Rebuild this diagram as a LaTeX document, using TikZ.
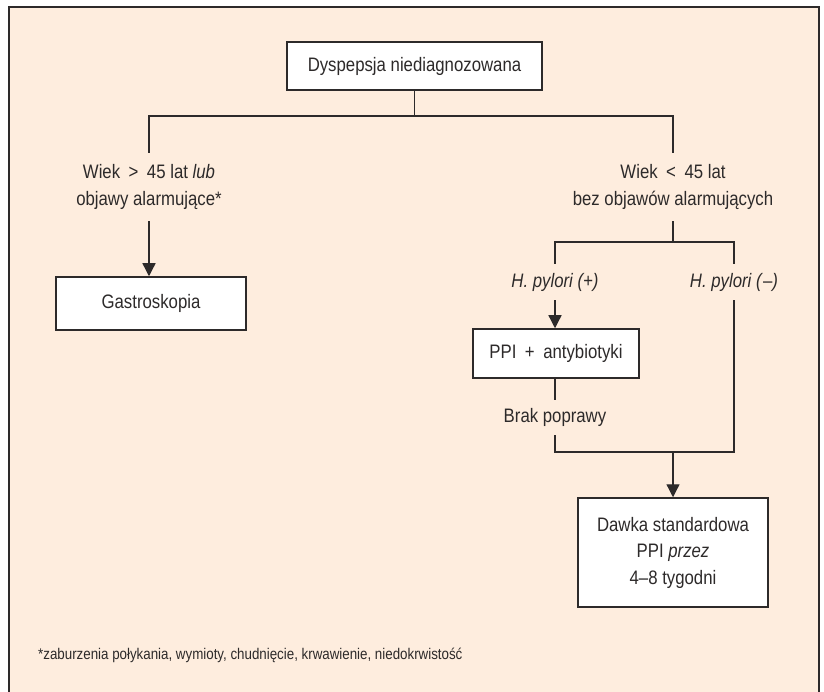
\documentclass[tikz,border=0pt]{standalone}
\usepackage{fontspec}
\setmainfont{Liberation Sans}[FakeStretch=0.86]
\usetikzlibrary{arrows.meta}
\definecolor{peach}{RGB}{254,237,222}
\definecolor{ink}{RGB}{45,42,42}
% wider gap around relation and plus signs
\newcommand{\opgap}{\hspace{8.5pt}}
\tikzset{
  box/.style={draw=ink, line width=1.5pt, fill=white, inner sep=0pt, align=center,
              font=\fontsize{19.5}{26.5}\selectfont, text=ink},
  lbl/.style={inner sep=0pt, align=center, font=\fontsize{19.5}{27}\selectfont, text=ink},
  wire/.style={draw=ink, line width=1.3pt},
  arr/.style={wire, -{Triangle[width=13pt,length=13pt]}},
}
\begin{document}
\begin{tikzpicture}[x=1pt, y=-1pt]
  \useasboundingbox (0,0) rectangle (824,692);
  % panel background and frame
  \fill[peach] (9,7) rectangle (819,692);
  \draw[ink, line width=1.6pt] (9,692) -- (9,7) -- (819,7) -- (819,692);

  % boxes
  \node[box, minimum width=255pt, minimum height=48pt] (top) at (414.5,66) {Dyspepsja niediagnozowana};
  \node[box, minimum width=190pt, minimum height=53pt] (gastro) at (151,303.5) {Gastroskopia};
  \node[box, minimum width=166pt, minimum height=49pt] (ppi) at (556,353.5) {PPI\opgap+\opgap antybiotyki};
  \node[box, minimum width=190pt, minimum height=109pt] (dawka) at (673,552.5)
    {Dawka standardowa\\PPI \textit{przez}\\4--8 tygodni};

  % branch labels
  \node[lbl, minimum height=68pt] (old) at (149,187) {Wiek\opgap>\opgap45 lat \textit{lub}\\objawy alarmujące*};
  \node[lbl, minimum height=68pt] (young) at (673,187) {Wiek\opgap<\opgap45 lat\\bez objawów alarmujących};
  \node[lbl, minimum height=36pt] (hpp) at (555,282) {\textit{H. pylori (+)}};
  \node[lbl, minimum height=36pt] (hpm) at (734,282) {\textit{H. pylori (}–\textit{)}};
  \node[lbl, minimum height=35pt] (brak) at (555,417.5) {Brak poprawy};

  % junction points
  \coordinate (j1) at (414,116);
  \coordinate (j2) at (673,242);
  \coordinate (j3) at (673,452);

  % connectors
  \draw[wire] (top.south) -- (top.south |- j1);
  \draw[wire] (old.north) |- (j1) -| (young.north);
  \draw[arr] (old.south) -- (old.south |- gastro.north);
  \draw[wire] (young.south) -- (j2);
  \draw[wire] (hpp.north) |- (j2) -| (hpm.north);
  \draw[arr] (hpp.south) -- (hpp.south |- ppi.north);
  \draw[wire] (brak.north |- ppi.south) -- (brak.north);
  \draw[wire] (brak.south) |- (j3) -| (hpm.south);
  \draw[arr] (j3) -- (dawka.north);

  % footnote
  \node[anchor=west, inner sep=0pt, text=ink, font=\fontsize{15.5}{18}\selectfont] (note) at (38,655)
    {*zaburzenia połykania, wymioty, chudnięcie, krwawienie, niedokrwistość};
\end{tikzpicture}
\end{document}
